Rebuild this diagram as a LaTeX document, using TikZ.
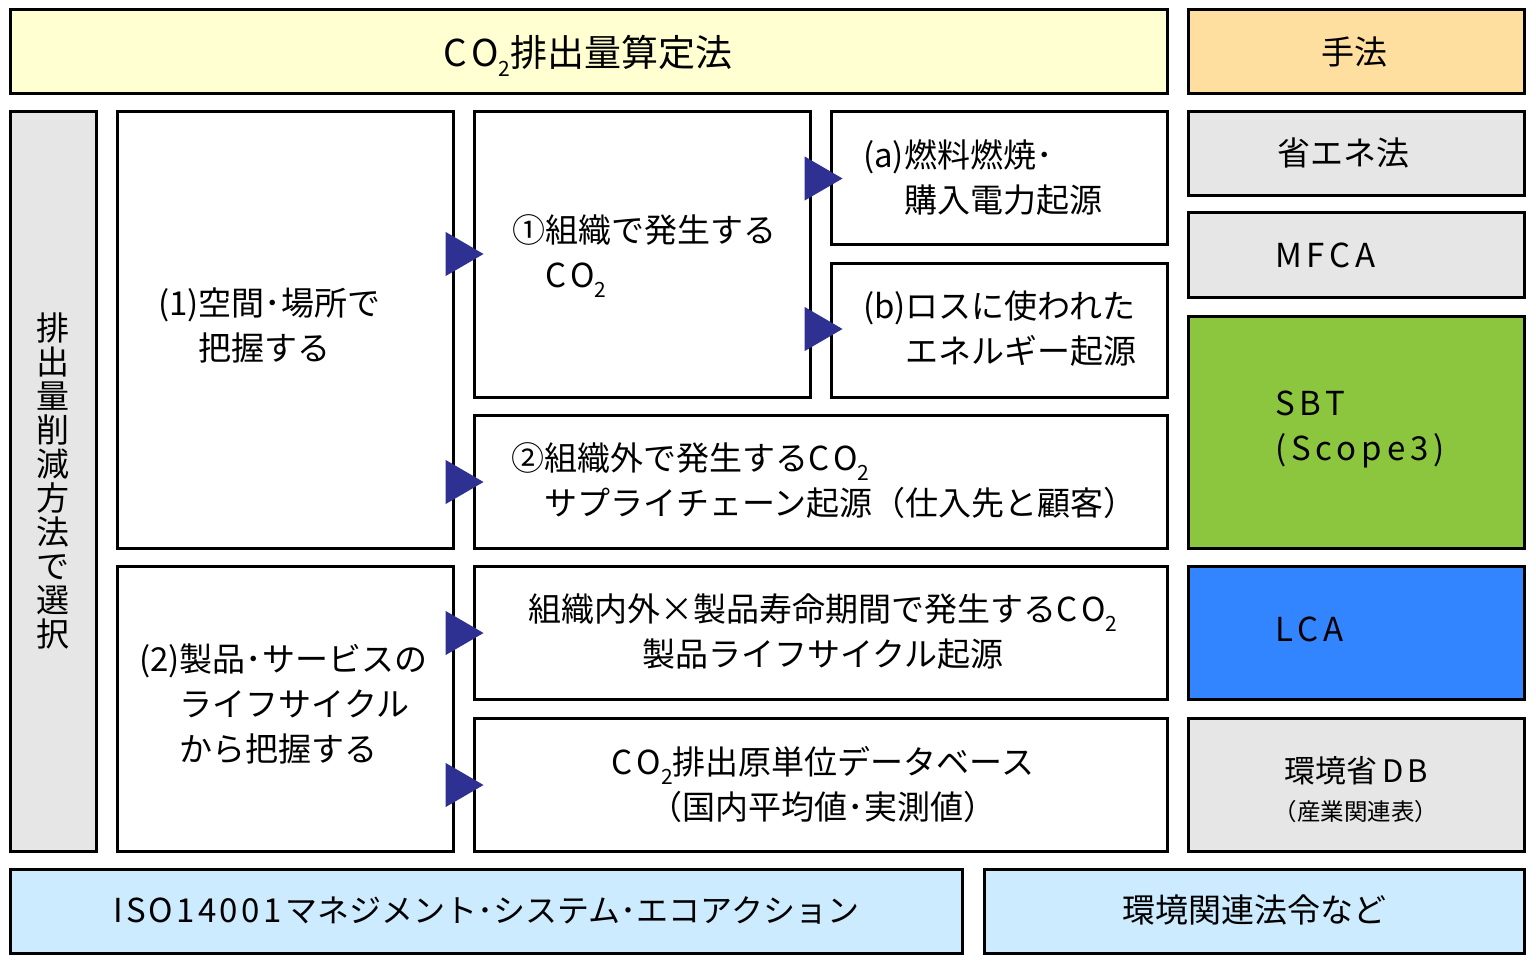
\documentclass[tikz,border=0pt]{standalone}
\usepackage{fontspec}
\setmainfont{Noto Sans CJK JP}
\newfontfamily\lat[LetterSpace=15]{Noto Sans CJK JP}
\newfontfamily\latn[LetterSpace=10]{Noto Sans CJK JP}
\usetikzlibrary{arrows.meta}
\definecolor{cyel}{HTML}{FFFFD2}
\definecolor{cora}{HTML}{FFDF9F}
\definecolor{cgry}{HTML}{E6E6E6}
\definecolor{cgrn}{HTML}{8CC63F}
\definecolor{cblu}{HTML}{3385FF}
\definecolor{clbl}{HTML}{CCEBFF}
\definecolor{carr}{HTML}{2E3192}
\newcommand\subtwo{\raisebox{-10pt}[0pt][0pt]{\fontsize{21}{21}\selectfont 2}}
\newcommand\COt{{\lat CO}\subtwo}
\begin{document}
\begin{tikzpicture}[x=1pt,y=-1pt,
  box/.style={draw=black, line width=3pt, inner sep=0pt},
  txt/.style={inner sep=0pt, font=\fontsize{33}{45}\selectfont, align=left},
  ctxt/.style={inner sep=0pt, font=\fontsize{33}{45}\selectfont, align=center},
  conn/.style={draw=carr, line width=1pt, -{Triangle[length=38pt,width=44pt]}},
]
\useasboundingbox (0,0) rectangle (1536,965);
% boxes
\node[box, fill=cyel, minimum width=1157pt, minimum height=84pt] (top) at (588.5,52) {};
\node[box, fill=cora, minimum width=336pt, minimum height=84pt] (meth) at (1356,52) {};
\node[box, fill=cgry, minimum width=86pt, minimum height=739pt] (side) at (53,481.5) {};
\node[box, fill=white, minimum width=336pt, minimum height=436pt] (sp) at (285,330) {};
\node[box, fill=white, minimum width=336pt, minimum height=285pt] (lc) at (285,708.5) {};
\node[box, fill=white, minimum width=336pt, minimum height=285pt] (org) at (642,254.5) {};
\node[box, fill=white, minimum width=336pt, minimum height=133pt] (fa) at (999,178.5) {};
\node[box, fill=white, minimum width=336pt, minimum height=133pt] (fb) at (999,330.5) {};
\node[box, fill=white, minimum width=693pt, minimum height=133pt] (sc) at (820.5,481.5) {};
\node[box, fill=white, minimum width=693pt, minimum height=133pt] (plc) at (820.5,632.5) {};
\node[box, fill=white, minimum width=693pt, minimum height=133pt] (db) at (820.5,784.5) {};
\node[box, fill=cgry, minimum width=336pt, minimum height=84pt] (r1) at (1356,154) {};
\node[box, fill=cgry, minimum width=336pt, minimum height=85pt] (r2) at (1356,255.5) {};
\node[box, fill=cgrn, minimum width=336pt, minimum height=231pt] (r3) at (1356,432.5) {};
\node[box, fill=cblu, minimum width=336pt, minimum height=133pt] (r4) at (1356,632.5) {};
\node[box, fill=cgry, minimum width=336pt, minimum height=133pt] (r5) at (1356,784.5) {};
\node[box, fill=clbl, minimum width=952pt, minimum height=84pt] (iso) at (486,911) {};
\node[box, fill=clbl, minimum width=540pt, minimum height=84pt] (law) at (1254,911) {};
% texts
\node[ctxt, font=\fontsize{37}{45}\selectfont] (topT) at (588,52) {\COt 排出量算定法};
\node[ctxt] (methT) at (1354,52) {手法};
\node[ctxt, font=\fontsize{33}{34}\selectfont] (sideT) at (53,481) {排\\出\\量\\削\\減\\方\\法\\で\\選\\択};
\node[txt, anchor=west] (spT) at (158,327) {(1)空間･場所で\\\phantom{(1)}把握する};
\node[txt, anchor=west] (orgT) at (512,252) {①組織で発生する\\\phantom{①}\COt};
\node[txt, anchor=west] (faT) at (863,179) {(a)燃料燃焼･\\\phantom{(a)}購入電力起源};
\node[txt, anchor=west] (fbT) at (863,330.5) {(b)ロスに使われた\\\phantom{(b)}エネルギー起源};
\node[txt, anchor=west] (scT) at (511,481) {②組織外で発生する\COt\\\phantom{②}サプライチェーン起源（仕入先と顧客）};
\node[ctxt] (plcT) at (823,631.5) {組織内外×製品寿命期間で発生する\COt\\製品ライフサイクル起源};
\node[ctxt] (dbT) at (823,784.5) {\COt 排出原単位データベース\\（国内平均値･実測値）};
\node[txt, anchor=west] (lcT) at (139,706) {(2)製品･サービスの\\\phantom{(2)}ライフサイクル\\\phantom{(2)}から把握する};
\node[txt, anchor=west] (r1T) at (1277,153) {省エネ法};
\node[txt, anchor=west] (r2T) at (1275,255) {\lat MFCA};
\node[txt, anchor=west] (r3T) at (1275,429) {{\lat SBT}\\{\lat (Scope3)}};
\node[txt, anchor=west] (r4T) at (1275,629) {\lat LCA};
\node[ctxt, font=\fontsize{31}{38}\selectfont] (r5T) at (1356,790) {環境省\hspace{5pt}{\lat D\hspace{4pt}B}\\{\fontsize{23.5}{26}\selectfont （産業関連表）}};
\node[ctxt] (isoT) at (486,910) {{\latn ISO14001}\hspace{4pt}{\fontsize{32}{45}\selectfont マネジメント･システム･エコアクション}};
\node[ctxt] (lawT) at (1254,910) {環境関連法令など};
% connectors
\draw[conn, shorten >=-11pt] (sp.east |- 0,254) -- (org.west |- 0,254);
\draw[conn, shorten >=-11pt] (sp.east |- 0,482) -- (sc.west |- 0,482);
\draw[conn, shorten >=-11pt] (lc.east |- 0,633) -- (plc.west |- 0,633);
\draw[conn, shorten >=-11pt] (lc.east |- 0,785) -- (db.west |- 0,785);
\draw[conn, shorten >=-13pt] (org.east |- 0,178.5) -- (fa.west |- 0,178.5);
\draw[conn, shorten >=-13pt] (org.east |- 0,329) -- (fb.west |- 0,329);
\end{tikzpicture}
\end{document}
